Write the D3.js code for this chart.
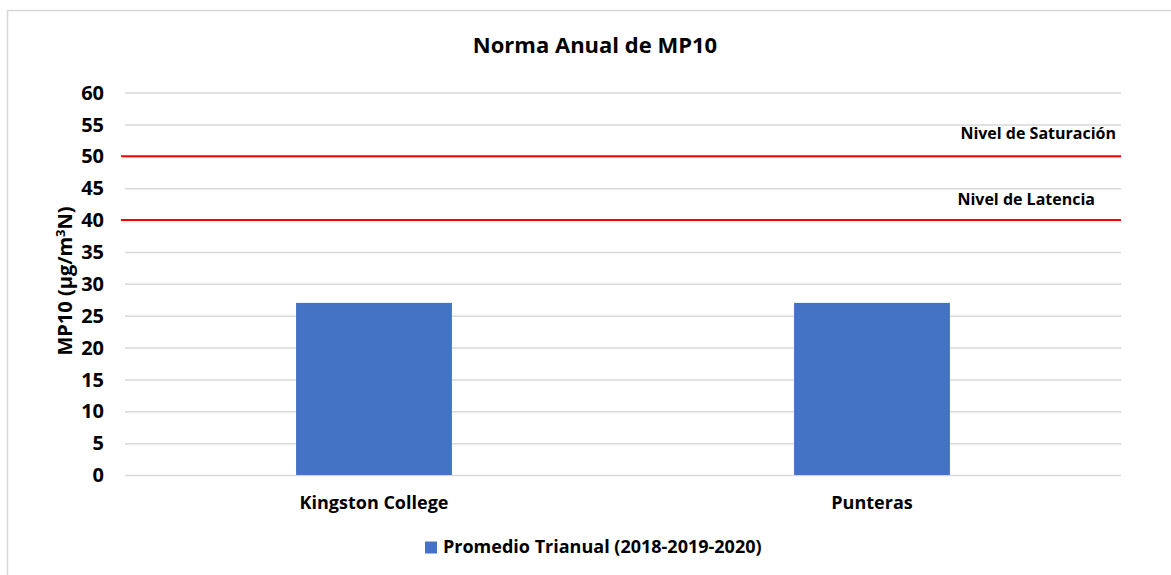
<!DOCTYPE html>
<html>
<head>
<meta charset="utf-8">
<script src="https://cdn.jsdelivr.net/npm/d3@7"></script>
<style>
  body { margin: 0; background: #fff; }
  svg text { font-family: "Open Sans", sans-serif; font-weight: bold; fill: #000; }
  .grid line { stroke: #d9d9d9; stroke-width: 1.5; }
  .grid path { display: none; }
</style>
</head>
<body>
<svg id="chart"></svg>
<script>
// Chart data
const categories = ['Kingston College', 'Punteras'];
const promedioTrianual = [27, 27];
const seriesName = 'Promedio Trianual (2018-2019-2020)';
const yTicks = [0, 5, 10, 15, 20, 25, 30, 35, 40, 45, 50, 55, 60];
const limitValues = [50, 40];
const limitLabels = ['Nivel de Saturación', 'Nivel de Latencia'];

const width = 1171, height = 575;
const margin = {top: 92.5, right: 50, bottom: 100, left: 125};
const innerW = width - margin.left - margin.right;
const innerH = height - margin.top - margin.bottom;

const svg = d3.select('#chart')
    .attr('width', width)
    .attr('height', height);

// outer frame (runs off the right and bottom edge)
svg.append('rect')
    .attr('x', 7.5).attr('y', 10.5)
    .attr('width', width).attr('height', height)
    .attr('fill', 'none')
    .attr('stroke', '#d9d9d9')
    .attr('stroke-width', 1.5);

const chart = svg.append('g')
    .attr('transform', `translate(${margin.left},${margin.top})`);

const x = d3.scaleBand()
    .domain(categories)
    .range([0, innerW])
    .paddingInner(0.687)
    .paddingOuter(0.3435);

const y = d3.scaleLinear()
    .domain([0, 60])
    .range([innerH, 0]);

// gridlines
chart.append('g')
    .attr('class', 'grid')
    .call(d3.axisLeft(y).tickValues(yTicks).tickSize(-innerW).tickFormat(''));

// tick labels
chart.selectAll('.ytick')
    .data(yTicks)
    .join('text')
    .attr('class', 'ytick')
    .attr('x', -21)
    .attr('y', d => y(d))
    .attr('dy', '0.36em')
    .attr('text-anchor', 'end')
    .style('font-size', '20px')
    .text(d => d);

// bars
chart.selectAll('.bar')
    .data(promedioTrianual)
    .join('rect')
    .attr('class', 'bar')
    .attr('x', (d, i) => x(categories[i]))
    .attr('width', x.bandwidth())
    .attr('y', d => y(d))
    .attr('height', d => innerH - y(d))
    .attr('fill', '#4472c4');

// limit lines
chart.selectAll('.limit')
    .data(limitValues)
    .join('line')
    .attr('class', 'limit')
    .attr('x1', -4).attr('x2', innerW)
    .attr('y1', d => y(d)).attr('y2', d => y(d))
    .attr('stroke', '#ff0000')
    .attr('stroke-width', 2);

chart.selectAll('.limit-label')
    .data(limitValues)
    .join('text')
    .attr('class', 'limit-label')
    .attr('x', (d, i) => i === 0 ? innerW - 5 : innerW - 26)
    .attr('y', (d, i) => y(d) - (i === 0 ? 17.5 : 15))
    .attr('text-anchor', 'end')
    .style('font-size', '16px')
    .text((d, i) => limitLabels[i]);

// x labels
chart.selectAll('.xlabel')
    .data(categories)
    .join('text')
    .attr('class', 'xlabel')
    .attr('x', d => x(d) + x.bandwidth() / 2)
    .attr('y', innerH + 34)
    .attr('text-anchor', 'middle')
    .style('font-size', '18px')
    .text(d => d);

// title
svg.append('text')
    .attr('x', 595)
    .attr('y', 53)
    .attr('text-anchor', 'middle')
    .style('font-size', '22px')
    .text('Norma Anual de MP10');

// y axis title
const yTitle = svg.append('text')
    .attr('transform', `translate(72,281) rotate(-90)`)
    .attr('text-anchor', 'middle')
    .style('font-size', '20px')
    .text('MP10 (µg/m');
yTitle.append('tspan')
    .attr('dy', -7)
    .style('font-size', '13px')
    .text('3');
yTitle.append('tspan')
    .attr('dy', 7)
    .text('N)');

// legend
const legend = svg.append('g')
    .attr('transform', 'translate(425,541.5)');
legend.append('rect')
    .attr('width', 12).attr('height', 12)
    .attr('fill', '#4472c4');
legend.append('text')
    .attr('x', 18)
    .attr('y', 11.5)
    .style('font-size', '18px')
    .text(seriesName);
</script>
</body>
</html>
